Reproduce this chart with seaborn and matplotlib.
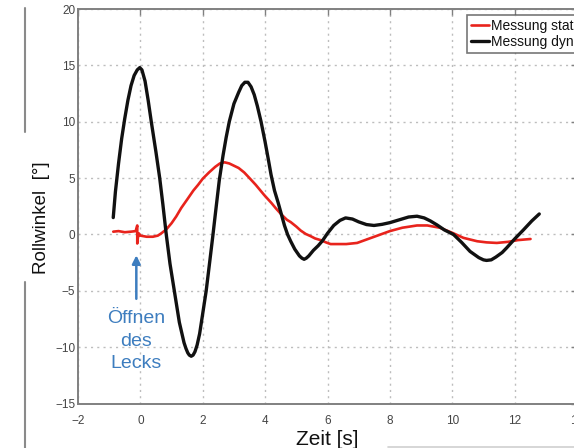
import numpy as np
import pandas as pd
import matplotlib
matplotlib.use("Agg")
import matplotlib.pyplot as plt
from matplotlib.lines import Line2D
import seaborn as sns

# ---- data ----
t_dyn = [-0.87, -0.8, -0.7, -0.6, -0.5, -0.4, -0.3, -0.2, -0.1, -0.02, 0.05, 0.15, 0.25, 0.35,
         0.5, 0.62, 0.72, 0.83, 0.95, 1.1, 1.25, 1.4, 1.46, 1.52, 1.57, 1.63, 1.69, 1.75, 1.82,
         1.9, 2.0, 2.11, 2.22, 2.32, 2.42, 2.53, 2.65, 2.75, 2.85, 3.0, 3.15, 3.25, 3.35, 3.45,
         3.55, 3.65, 3.75, 3.87, 4.0, 4.1, 4.19, 4.3, 4.42, 4.53, 4.62, 4.72, 4.82, 4.95, 5.1,
         5.18, 5.25, 5.32, 5.4, 5.55, 5.7, 5.84, 6.0, 6.2, 6.4, 6.58, 6.8, 7.0, 7.25, 7.49, 7.75,
         8.0, 8.3, 8.6, 8.87, 9.1, 9.3, 9.51, 9.75, 10.04, 10.3, 10.57, 10.85, 11.0, 11.1, 11.25,
         11.4, 11.6, 11.74, 12.0, 12.28, 12.55, 12.79]
v_dyn = [1.5, 3.8, 6.3, 8.5, 10.3, 11.9, 13.2, 14.1, 14.6, 14.8, 14.6, 13.6, 11.9, 10.0,
         7.3, 5.0, 2.7, 0.0, -2.6, -5.2, -7.8, -9.6, -10.1, -10.5, -10.7, -10.8, -10.7, -10.4,
         -9.8, -8.8, -7.0, -5.0, -2.5, -0.2, 2.2, 4.8, 7.0, 8.6, 10.0, 11.6, 12.6, 13.2, 13.5,
         13.5, 13.1, 12.4, 11.4, 10.0, 8.2, 6.7, 5.3, 3.9, 2.8, 1.7, 0.8, 0.0, -0.6, -1.3, -1.9,
         -2.1, -2.2, -2.1, -1.9, -1.4, -1.0, -0.55, 0.1, 0.8, 1.25, 1.47, 1.37, 1.12, 0.88, 0.8,
         0.9, 1.05, 1.3, 1.55, 1.62, 1.47, 1.2, 0.85, 0.4, 0.0, -0.7, -1.5, -2.05, -2.25, -2.3,
         -2.25, -2.0, -1.6, -1.2, -0.4, 0.4, 1.2, 1.82]

t_stat = [-0.87, -0.7, -0.5, -0.3, -0.15, -0.1, -0.1, -0.08, -0.05, 0.0, 0.2, 0.4, 0.56, 0.67,
          0.83, 1.0, 1.15, 1.31, 1.5, 1.7, 1.85, 2.0, 2.2, 2.4, 2.55, 2.7, 2.85, 3.0, 3.15,
          3.33, 3.5, 3.7, 3.97, 4.2, 4.35, 4.53, 4.7, 4.82, 5.0, 5.14, 5.3, 5.46, 5.6, 5.78,
          5.95, 6.1, 6.3, 6.6, 6.95, 7.3, 7.7, 8.0, 8.4, 8.87, 9.2, 9.6, 10.0, 10.36, 10.8,
          11.1, 11.43, 11.8, 12.1, 12.51]
v_stat = [0.25, 0.3, 0.2, 0.25, 0.3, 0.8, -0.8, -0.3, 0.1, -0.1, -0.2, -0.2, -0.1, 0.1,
          0.45, 1.0, 1.6, 2.35, 3.1, 3.9, 4.4, 4.95, 5.5, 6.0, 6.3, 6.4, 6.3, 6.1, 5.9,
          5.5, 5.0, 4.4, 3.5, 2.8, 2.3, 1.75, 1.3, 1.1, 0.7, 0.35, 0.05, -0.15, -0.35, -0.5,
          -0.7, -0.85, -0.85, -0.85, -0.75, -0.4, 0.0, 0.3, 0.6, 0.8, 0.8, 0.6, 0.15, -0.3, -0.6,
          -0.7, -0.75, -0.65, -0.5, -0.4]

series_names = ["Messung statisch", "Messung dynamisch"]
x_ticks = [-2, 0, 2, 4, 6, 8, 10, 12, 14]
y_ticks = [-15, -10, -5, 0, 5, 10, 15, 20]

df = pd.concat([
    pd.DataFrame({"t": t_stat, "v": v_stat, "Serie": series_names[0]}),
    pd.DataFrame({"t": t_dyn, "v": v_dyn, "Serie": series_names[1]}),
])

sns.set_theme(style="white")
plt.rcParams["font.family"] = ["Liberation Sans", "DejaVu Sans"]

fig = plt.figure(figsize=(5.74, 4.48), dpi=100)
ax = fig.add_axes([78 / 574, 1 - 403.6 / 448, 499 / 574, 394.6 / 448])

colors = {"Messung statisch": "#e8231c", "Messung dynamisch": "#111111"}
for name, lw in [("Messung statisch", 1.9), ("Messung dynamisch", 2.4)]:
    sub = df[df["Serie"] == name]
    sns.lineplot(data=sub, x="t", y="v", color=colors[name], lw=lw, sort=False,
                 estimator=None, ax=ax, label=name)
for ln in ax.lines:
    ln.set_solid_joinstyle("round")
    ln.set_solid_capstyle("round")

ax.set_xlim(-2, 14)
ax.set_ylim(-15, 20)
ax.set_xticks(x_ticks)
ax.set_yticks(y_ticks)
ax.set_xticklabels([f"{v}".replace("-", "\u2212") for v in x_ticks])
ax.set_yticklabels([f"{v}".replace("-", "\u2212") for v in y_ticks])
ax.set_xlabel("")
ax.set_ylabel("")
ax.grid(True, linestyle=(0, (1.5, 3)), color="#bdbdbd", linewidth=1.0)
for s in ax.spines.values():
    s.set_color("#808080")
    s.set_linewidth(1.4)
ax.tick_params(direction="in", length=4, width=1, color="#808080", top=True, right=True,
               labelsize=8.5, labelcolor="#444444")
ax.tick_params(axis="x", pad=8)
ax.tick_params(axis="y", pad=2)

leg = ax.legend(loc="upper left", bbox_to_anchor=(467 / 574, 1 - 15 / 448),
                bbox_transform=fig.transFigure, frameon=True, fontsize=10,
                handlelength=1.3, handletextpad=0.1, borderpad=0.3, labelspacing=0.1,
                borderaxespad=0, fancybox=False)
leg.get_frame().set_edgecolor("#555555")
leg.get_frame().set_linewidth(1.2)
for txt in leg.get_texts():
    txt.set_color("#111111")

ax.annotate("", xy=(-0.13, -1.6), xytext=(-0.13, -5.95),
            arrowprops=dict(arrowstyle="-|>", color="#3d7dbf", lw=1.8, mutation_scale=12))
ax.text(-0.13, -9.45, "Öffnen\ndes\nLecks", color="#3d7dbf", fontsize=14,
        ha="center", va="center", linespacing=1.45)

fig.text(42 / 574, 1 - 218 / 448, "Rollwinkel  [°]", rotation=90, ha="center", va="center",
         fontsize=13.5, color="#111111")
fig.text(327.5 / 574, 1 - 439 / 448, "Zeit [s]", ha="center", va="center",
         fontsize=15, color="#111111")

# page frame remnants
fig.add_artist(Line2D([25 / 574, 25 / 574], [1 - 8 / 448, 1 - 132 / 448],
                      transform=fig.transFigure, color="#8a8a8a", lw=1.5))
fig.add_artist(Line2D([25 / 574, 25 / 574], [1 - 282 / 448, 0],
                      transform=fig.transFigure, color="#8a8a8a", lw=1.5))
fig.add_artist(Line2D([388 / 574, 1], [1 - 446.5 / 448, 1 - 446.5 / 448],
                      transform=fig.transFigure, color="#cfcfcf", lw=1.2))

fig.savefig("out.png", dpi=100)
